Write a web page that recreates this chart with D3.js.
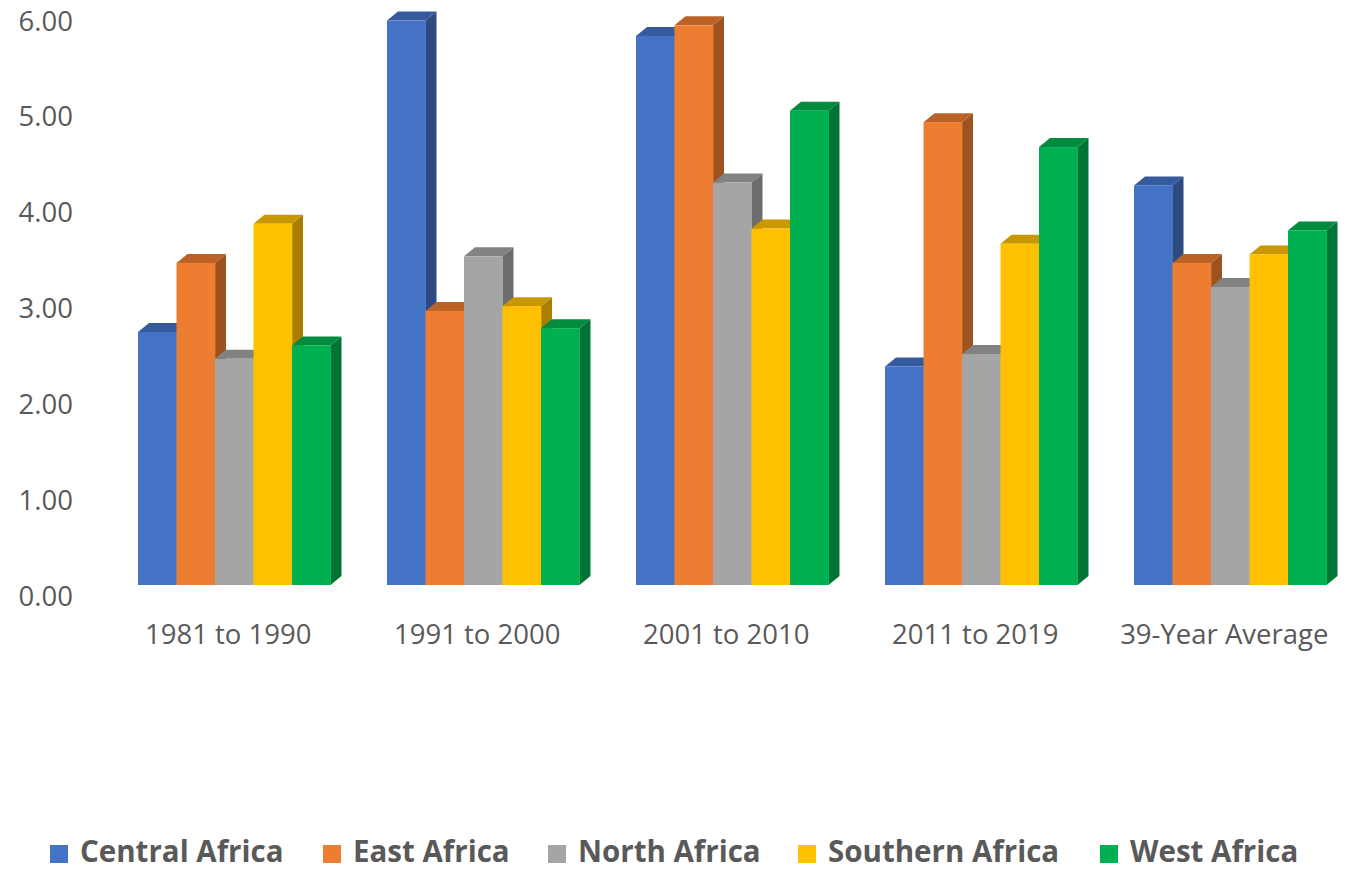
<!DOCTYPE html>
<html>
<head>
<meta charset="utf-8">
<script src="https://cdn.jsdelivr.net/npm/d3@7"></script>
<style>
  html, body { margin: 0; padding: 0; background: #ffffff; }
  svg { display: block; }
  text { font-family: "Open Sans", "DejaVu Sans", sans-serif; fill: #595959; }
</style>
</head>
<body>
<svg id="chart" width="1355" height="870"></svg>
<script>
// ---- data ----
const categories = ["1981 to 1990", "1991 to 2000", "2001 to 2010", "2011 to 2019", "39-Year Average"];
const seriesNames = ["Central Africa", "East Africa", "North Africa", "Southern Africa", "West Africa"];
const centralAfrica  = [2.64, 5.89, 5.73, 2.28, 4.17];
const eastAfrica     = [3.36, 2.86, 5.84, 4.83, 3.36];
const northAfrica    = [2.36, 3.43, 4.20, 2.41, 3.11];
const southernAfrica = [3.77, 2.91, 3.72, 3.56, 3.45];
const westAfrica     = [2.50, 2.68, 4.95, 4.57, 3.70];
const yTicks = [0, 1, 2, 3, 4, 5, 6];
const seriesColors = ["#4472C4", "#ED7D31", "#A5A5A5", "#FFC000", "#00B050"];

const seriesValues = [centralAfrica, eastAfrica, northAfrica, southernAfrica, westAfrica];

// ---- layout ----
const svg = d3.select("#chart");
const baseY = 585;        // front floor
const pxPerUnit = 95.83;
const depthX = 11, depthY = 9;  // oblique 3D depth

const x0 = d3.scaleBand().domain(categories).range([138, 1326.5]).paddingInner(0.227).paddingOuter(0);
const x1 = d3.scaleBand().domain(seriesNames).range([0, x0.bandwidth()]).padding(0);
const y = d3.scaleLinear().domain([0, 6]).range([baseY, baseY - 6 * pxPerUnit]);
const color = d3.scaleOrdinal().domain(seriesNames).range(seriesColors);

function shade(c, k) {
  const r = d3.rgb(c);
  return d3.rgb(r.r * k, r.g * k, r.b * k).formatHex();
}

// ---- y axis (labels only) ----
const yAxis = d3.axisLeft(y).tickValues(yTicks).tickFormat(d3.format(".2f")).tickSize(0).tickPadding(0);
const gy = svg.append("g").attr("transform", "translate(73,10.5)").call(yAxis);
gy.select(".domain").remove();
gy.selectAll("text").attr("font-size", 27.5).attr("fill", "#595959")
  .attr("font-family", "'Open Sans', sans-serif").attr("dy", "0.35em");

// ---- bars ----
categories.forEach((cat, ci) => {
  const g = svg.append("g");
  seriesNames.forEach((s, si) => {
    const v = seriesValues[si][ci];
    const xl = x0(cat) + x1(s);
    const xr = xl + x1.bandwidth();
    const yt = y(v);
    const yb = y(0);
    const c = color(s);
    // side face
    g.append("path")
      .attr("d", `M${xr},${yt} L${xr + depthX},${yt - depthY} L${xr + depthX},${yb - depthY} L${xr},${yb} Z`)
      .attr("fill", shade(c, 0.66));
    // top face
    g.append("path")
      .attr("d", `M${xl},${yt} L${xl + depthX},${yt - depthY} L${xr + depthX},${yt - depthY} L${xr},${yt} Z`)
      .attr("fill", shade(c, 0.79));
    // front face
    g.append("rect")
      .attr("x", xl).attr("y", yt)
      .attr("width", x1.bandwidth() + 0.4).attr("height", yb - yt)
      .attr("fill", c);
  });
});

// ---- x axis labels ----
const xAxis = d3.axisBottom(x0).tickSize(0).tickPadding(0);
const gx = svg.append("g").attr("transform", "translate(-6,624)").call(xAxis);
gx.select(".domain").remove();
gx.selectAll("text").attr("font-size", 27.5).attr("fill", "#595959")
  .attr("font-family", "'Open Sans', sans-serif").attr("dy", "0.71em");

// ---- legend ----
const legendX = [50, 323, 548, 798, 1100];
const legend = svg.append("g");
seriesNames.forEach((s, i) => {
  legend.append("rect").attr("x", legendX[i]).attr("y", 845).attr("width", 18).attr("height", 18).attr("fill", color(s));
  legend.append("text").attr("x", legendX[i] + 30).attr("y", 862)
    .attr("font-size", 29.5).attr("font-weight", 700).attr("fill", "#595959")
    .attr("font-family", "'Open Sans', sans-serif")
    .text(s);
});
</script>
</body>
</html>
